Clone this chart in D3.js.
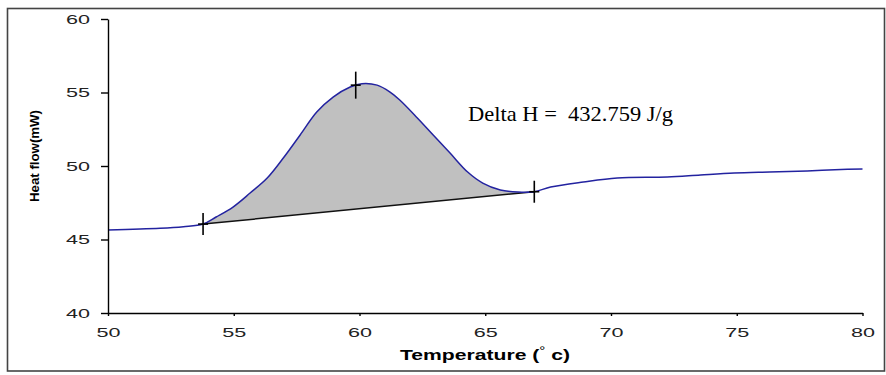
<!DOCTYPE html>
<html><head><meta charset="utf-8">
<script src="https://cdn.jsdelivr.net/npm/d3@7/dist/d3.min.js"></script>
<style>body{margin:0;background:#fff}svg{display:block}</style>
</head><body>
<svg id="c" width="886" height="375"></svg>
<script>
// ---- data ----
const temps    = [50, 52.07, 53.0, 53.78, 54.3, 54.97, 55.65, 56.33, 56.97, 57.64, 58.3, 58.95, 59.63, 60.1, 60.7, 61.2, 61.6, 62.3, 62.93, 63.6, 64.3, 64.9, 65.6, 66.3, 66.95, 67.6, 68.9, 70.25, 72.24, 73.56, 74.9, 76.3, 77.8, 79.4, 80];
const heatFlow = [45.65, 45.76, 45.87, 46.05, 46.53, 47.21, 48.16, 49.18, 50.54, 52.11, 53.67, 54.69, 55.37, 55.6, 55.5, 55.05, 54.49, 53.27, 52.11, 50.88, 49.59, 48.84, 48.37, 48.23, 48.25, 48.57, 48.91, 49.18, 49.25, 49.39, 49.52, 49.59, 49.66, 49.78, 49.8];
const baselineT = [53.78, 66.95];
const baselineV = [46.05, 48.25];
const markerT = [53.78, 59.85, 66.95];
const markerV = [46.05, 55.5, 48.25];
const xTicks = [50, 55, 60, 65, 70, 75, 80];
const yTicks = [40, 45, 50, 55, 60];
const annotation = "Delta H =  432.759 J/g";
const xTitle = "Temperature (";
const xTitleDeg = "°";
const xTitleEnd = " c)";
const yTitle = "Heat flow(mW)";

// ---- layout ----
const svg = d3.select("#c");
const x = d3.scaleLinear().domain([50, 80]).range([108, 862.5]);
const y = d3.scaleLinear().domain([40, 60]).range([313, 19]);

// outer border
svg.append("rect").attr("x", 7.5).attr("y", 8.5).attr("width", 877).attr("height", 362.5)
  .attr("fill", "none").attr("stroke", "#444").attr("stroke-width", 1.6);

const curveType = d3.curveCatmullRom.alpha(0.5);

// fill between curve and baseline
const base = d3.scaleLinear().domain(baselineT).range(baselineV);
const areaPts = temps.map((t, i) => [t, heatFlow[i]]).filter(d => d[0] >= baselineT[0] && d[0] <= baselineT[1]);
svg.append("path").datum(areaPts)
  .attr("fill", "#c0c0c0")
  .attr("d", d3.area().curve(curveType).x(d => x(d[0])).y0(d => y(base(d[0]))).y1(d => y(d[1])));

// baseline
svg.append("line")
  .attr("x1", x(baselineT[0])).attr("y1", y(baselineV[0]))
  .attr("x2", x(baselineT[1])).attr("y2", y(baselineV[1]))
  .attr("stroke", "#111").attr("stroke-width", 1.5);

// curve
svg.append("path").datum(temps.map((t, i) => [t, heatFlow[i]]))
  .attr("fill", "none").attr("stroke", "#2323a0").attr("stroke-width", 1.5)
  .attr("d", d3.line().curve(curveType).x(d => x(d[0])).y(d => y(d[1])));

// markers
const mk = svg.append("g").attr("stroke", "#000").attr("stroke-width", 1.6);
markerT.forEach((t, i) => {
  const cx = x(t), cy = y(markerV[i]);
  const hv = i === 1 ? 13.5 : 11;
  mk.append("line").attr("x1", cx).attr("x2", cx).attr("y1", cy - hv).attr("y2", cy + hv);
  mk.append("line").attr("x1", cx - 5).attr("x2", cx + 5).attr("y1", cy).attr("y2", cy);
});

// axes
const fontTick = "'Liberation Sans', Arial, sans-serif";
const gx = svg.append("g").attr("transform", "translate(0,313)")
  .call(d3.axisBottom(x).tickValues(xTicks).tickSizeInner(3).tickSizeOuter(0).tickPadding(12));
const gy = svg.append("g").attr("transform", "translate(108,0)")
  .call(d3.axisLeft(y).tickValues(yTicks).tickSizeInner(7).tickSizeOuter(0).tickPadding(11));
[gx, gy].forEach(g => {
  g.selectAll("path.domain").attr("stroke", "#000").attr("stroke-width", 1.4);
  g.selectAll(".tick line").attr("stroke", "#000").attr("stroke-width", 1.4);
  g.selectAll(".tick text")
    .attr("font-family", fontTick).attr("font-size", 13).attr("fill", "#222")
    .each(function () { const s = d3.select(this); s.attr("textLength", 12 * s.text().length).attr("lengthAdjust", "spacingAndGlyphs"); });
});

// axis titles
const xt = svg.append("text").attr("x", 485).attr("y", 360)
  .attr("text-anchor", "middle").attr("font-family", fontTick).attr("font-weight", "bold")
  .attr("font-size", 14).attr("fill", "#000")
  .attr("textLength", 170).attr("lengthAdjust", "spacingAndGlyphs");
xt.append("tspan").text(xTitle);
xt.append("tspan").attr("font-size", 10).attr("font-weight", "normal").attr("dy", -6).text(xTitleDeg);
xt.append("tspan").attr("dy", 6).text(xTitleEnd);

svg.append("text").attr("transform", "translate(39,156) rotate(-90)")
  .attr("text-anchor", "middle").attr("font-family", fontTick).attr("font-weight", "bold")
  .attr("font-size", 13).attr("fill", "#000")
  .attr("textLength", 92).attr("lengthAdjust", "spacingAndGlyphs")
  .text(yTitle);

// annotation
svg.append("text").attr("x", 468).attr("y", 121)
  .attr("font-family", "'Liberation Serif', 'Times New Roman', serif")
  .attr("font-size", 21.5).attr("fill", "#000")
  .attr("textLength", 205).attr("lengthAdjust", "spacingAndGlyphs")
  .attr("xml:space", "preserve").style("white-space", "pre")
  .text(annotation);
</script>
</body></html>
